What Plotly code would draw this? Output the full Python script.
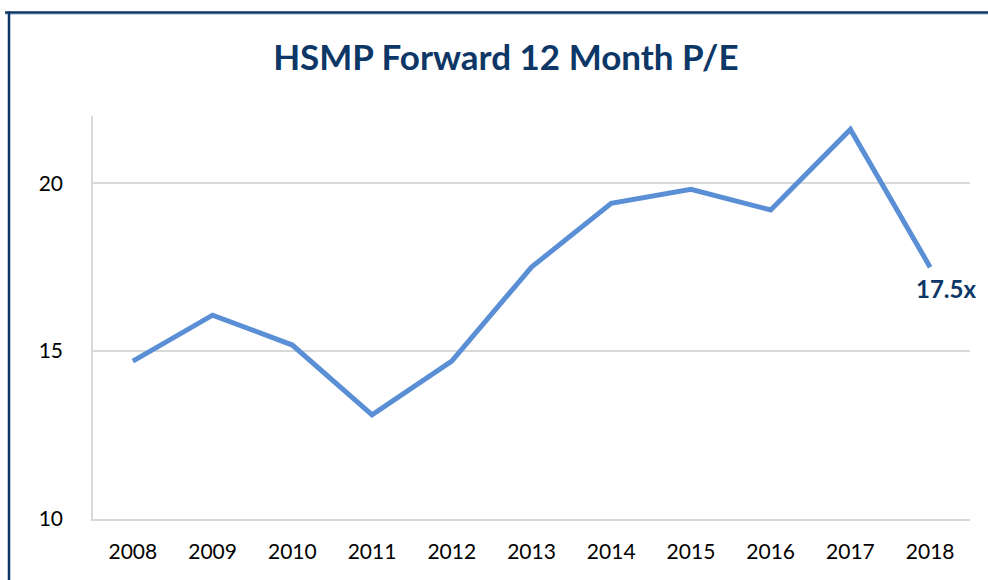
import plotly.graph_objects as go

years = ["2008", "2009", "2010", "2011", "2012", "2013", "2014", "2015", "2016", "2017", "2018"]
pe_values = [14.7, 16.07, 15.18, 13.1, 14.7, 17.5, 19.4, 19.82, 19.2, 21.6, 17.5]
y_ticks = [10, 15, 20]
last_label = "17.5x"
title_text = "HSMP Forward 12 Month P/E"

NAVY = "#0C3766"
LINE = "#5A8FD6"
GRID = "#D9D9D9"
FONT = "Lato"

fig = go.Figure()
fig.add_trace(go.Scatter(
    x=years, y=pe_values, mode="lines",
    line=dict(color=LINE, width=5, shape="linear"),
    hoverinfo="x+y", showlegend=False,
))

fig.add_annotation(
    x=len(years) - 1, y=pe_values[-1], xref="x", yref="y",
    text=f"<b>{last_label}</b>",
    showarrow=False, xshift=16, yshift=-21,
    font=dict(family=FONT, size=24, color=NAVY),
)

# outer frame (top and left edges)
fig.add_shape(type="line", xref="paper", yref="paper", xsizemode="pixel", ysizemode="pixel",
              xanchor=0, yanchor=0, x0=-88, x1=900, y0=506.5, y1=506.5,
              line=dict(color=NAVY, width=2.5))
fig.add_shape(type="line", xref="paper", yref="paper", xsizemode="pixel", ysizemode="pixel",
              xanchor=0, yanchor=0, x0=-88, x1=900, y0=504.5, y1=504.5,
              line=dict(color="#C9D6E6", width=1))
fig.add_shape(type="line", xref="paper", yref="paper", xsizemode="pixel", ysizemode="pixel",
              xanchor=0, yanchor=0, x0=-84, x1=-84, y0=507.5, y1=-70,
              line=dict(color=NAVY, width=2.5))

fig.update_layout(
    width=988, height=580,
    margin=dict(l=93, r=18, t=116, b=61),
    paper_bgcolor="white", plot_bgcolor="white",
    title=dict(text=f"<b>{title_text}</b>", x=0.512, xanchor="center",
               y=0.9, yanchor="middle", yref="container",
               font=dict(family=FONT, size=35, color=NAVY)),
    font=dict(family=FONT, size=21, color="#000000"),
    xaxis=dict(type="category", range=[-0.5, 10.5], showgrid=False,
               showline=True, linecolor=GRID, linewidth=1.5, ticks="",
               ticklabelstandoff=13, tickfont=dict(size=21, color="#000000"),
               fixedrange=True),
    yaxis=dict(range=[10, 22], tickvals=y_ticks, showgrid=True, gridcolor=GRID,
               gridwidth=1.5, showline=True, linecolor=GRID, linewidth=1.5,
               zeroline=False, ticks="", ticklabelstandoff=24,
               tickfont=dict(size=21, color="#000000"), fixedrange=True),
)

fig.write_html("out.html", config={"displayModeBar": False},
               post_script="document.body.style.margin='0';document.body.style.overflow='hidden';")
